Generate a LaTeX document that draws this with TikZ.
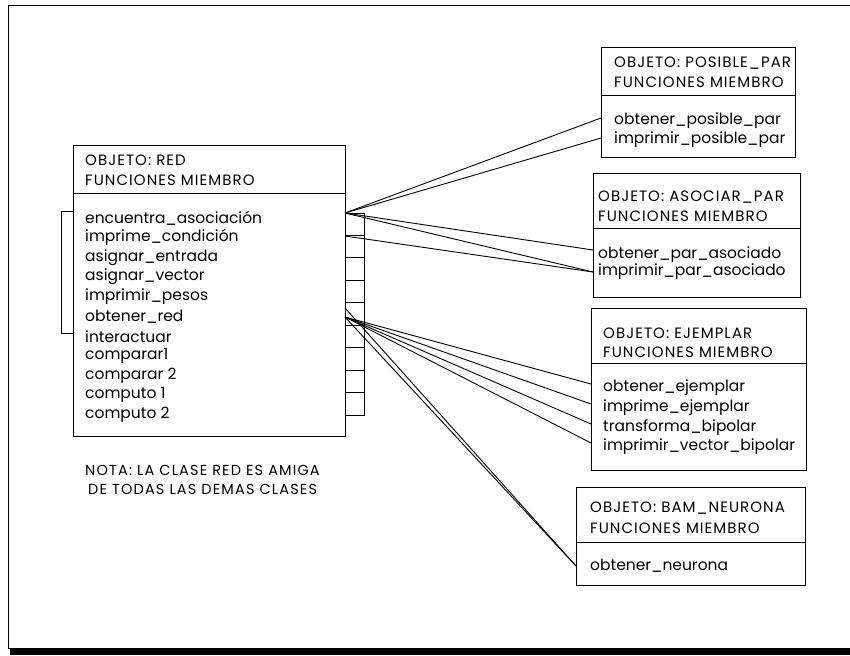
\documentclass[tikz,border=0pt]{standalone}
\usepackage{fontspec}
\setmainfont{Poppins}
\begin{document}
\begin{tikzpicture}[x=1pt,y=-1pt,
    box/.style={draw,line width=1.4pt,anchor=north west,inner sep=0pt},
    item/.style={anchor=west,inner sep=0pt,font=\fontsize{15.5}{17}\selectfont},
    head/.style={item,font=\fontsize{15}{17}\selectfont\addfontfeature{LetterSpace=7}},
    lnk/.style={line width=0.9pt}]
  \useasboundingbox (0,0) rectangle (850,655);
  % marco de la hoja
  \draw[line width=1pt] (850,6) -- (8,6) -- (8,648) -- (850,648);
  \fill (10,649) rectangle (850,655);

  % objeto red
  \node[box,minimum width=272pt,minimum height=48pt] (red) at (73,145) {};
  \node[box,minimum width=272pt,minimum height=243pt] (redb) at (73,193) {};
  \node[head] (redh1) at (85,160) {OBJETO: RED};
  \node[head] (redh2) at (85,180) {FUNCIONES MIEMBRO};
  \foreach \t [count=\i from 0] in {encuentra\_asociación,imprime\_condición,
      asignar\_entrada,asignar\_vector,imprimir\_pesos,obtener\_red,interactuar,
      comparar1,comparar 2,computo 1,computo 2}{
    \node[item] (red\i) at (85,218+19.7*\i) {\t};
  }
  \draw[line width=1pt] (redb.west |- 0,211) -- (61,211) -- (61,333) -- (redb.west |- 0,333);
  \draw[line width=0.8pt] (redb.east |- 0,213) -| (364,415) -- (redb.east |- 0,415);
  \foreach \i in {1,...,8}{
    \draw[line width=0.8pt] (345,213+22.44*\i) -- (364,213+22.44*\i);
  }
  \node[head,font=\fontsize{14.5}{17}\selectfont\addfontfeature{LetterSpace=8}] (nota1) at (85,470) {NOTA: LA CLASE RED ES AMIGA};
  \node[head,font=\fontsize{14.5}{17}\selectfont\addfontfeature{LetterSpace=8}] (nota2) at (88,489) {DE TODAS LAS DEMAS CLASES};

  % objeto posible_par
  \node[box,minimum width=194pt,minimum height=48pt] (pos) at (601,47) {};
  \node[box,minimum width=194pt,minimum height=62pt] (posb) at (601,95) {};
  \node[head] (posh1) at (614,63) {OBJETO: POSIBLE\_PAR};
  \node[head] (posh2) at (614,82) {FUNCIONES MIEMBRO};
  \node[item] (pos1) at (614,121) {obtener\_posible\_par};
  \node[item] (pos2) at (614,140) {imprimir\_posible\_par};

  % objeto asociar_par
  \node[box,minimum width=207pt,minimum height=55pt] (aso) at (593,173) {};
  \node[box,minimum width=207pt,minimum height=69pt] (asob) at (593,228) {};
  \node[head] (asoh1) at (598,197) {OBJETO: ASOCIAR\_PAR};
  \node[head] (asoh2) at (598,216) {FUNCIONES MIEMBRO};
  \node[item] (aso1) at (598,255) {obtener\_par\_asociado};
  \node[item] (aso2) at (598,272) {imprimir\_par\_asociado};

  % objeto ejemplar
  \node[box,minimum width=215pt,minimum height=55pt] (ejm) at (591,308) {};
  \node[box,minimum width=215pt,minimum height=107pt] (ejmb) at (591,363) {};
  \node[head] (ejmh1) at (603,333) {OBJETO: EJEMPLAR};
  \node[head] (ejmh2) at (603,352) {FUNCIONES MIEMBRO};
  \node[item] (ejm1) at (603,388) {obtener\_ejemplar};
  \node[item] (ejm2) at (603,408) {imprime\_ejemplar};
  \node[item] (ejm3) at (603,428) {transforma\_bipolar};
  \node[item] (ejm4) at (603,447) {imprimir\_vector\_bipolar};

  % objeto bam_neurona
  \node[box,minimum width=229pt,minimum height=55pt] (bam) at (576,487) {};
  \node[box,minimum width=229pt,minimum height=43pt] (bamb) at (576,542) {};
  \node[head] (bamh1) at (590,508) {OBJETO: BAM\_NEURONA};
  \node[head] (bamh2) at (590,528) {FUNCIONES MIEMBRO};
  \node[item] (bam1) at (590,566) {obtener\_neurona};

  % conexiones
  \coordinate (ra) at (345,213);
  \coordinate (rb) at (345,236);
  \coordinate (rc) at (345,308);
  \coordinate (rd) at (345,317);
  \draw[lnk] (ra) -- (posb.west |- 0,118);
  \draw[lnk] (ra) -- (posb.west |- 0,138);
  \draw[lnk] (ra) -- (asob.west |- 0,250);
  \draw[lnk] (ra) -- (asob.west |- aso2);
  \draw[lnk] (rb) -- (asob.west |- aso2);
  \foreach \i in {1,...,4}{
    \draw[lnk] (rd) -- ([yshift=4pt]ejmb.west |- ejm\i);
  }
  \draw[lnk] (rc) -- (bamb.west |- bam1);
  \draw[lnk] (rd) -- (bamb.west |- bam1);
\end{tikzpicture}
\end{document}
